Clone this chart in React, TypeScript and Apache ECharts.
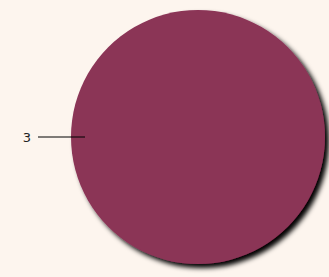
import React, { useEffect, useRef } from "react";
import * as echarts from "echarts";

const categories = ["3"];
const values = [3];
const sliceColor = "#8b3457";

export default function App() {
  const ref = useRef<HTMLDivElement>(null);
  useEffect(() => {
    if (!ref.current) return;
    const chart = echarts.init(ref.current, undefined, { renderer: "svg" });
    const data = categories.map((c, i) => ({ name: c, value: values[i] }));
    chart.setOption({
      animation: false,
      backgroundColor: "#fdf5ee",
      series: [
        {
          type: "pie",
          z: 1,
          center: [198, 137],
          radius: 127,
          startAngle: 0,
          silent: true,
          data,
          label: { show: false },
          labelLine: { show: false },
          itemStyle: {
            color: sliceColor,
            shadowBlur: 5,
            shadowOffsetX: 4,
            shadowOffsetY: 4,
            shadowColor: "rgba(0,0,0,1)",
          },
        },
        {
          type: "pie",
          z: 5,
          center: [198, 137],
          radius: 113,
          startAngle: 0,
          silent: true,
          data,
          itemStyle: { color: "rgba(0,0,0,0)" },
          label: {
            show: true,
            position: "outside",
            formatter: "{b}",
            color: "#222",
            fontFamily: "DejaVu Sans",
            fontSize: 13,
            distanceToLabelLine: 7,
          },
          labelLine: {
            show: true,
            length: 47,
            length2: 0,
            lineStyle: { color: "#000", width: 1 },
          },
        },
      ],
    });
    return () => chart.dispose();
  }, []);
  return (
    <div
      ref={ref}
      style={{ position: "fixed", left: 0, top: 0, width: 329, height: 277 }}
    />
  );
}
